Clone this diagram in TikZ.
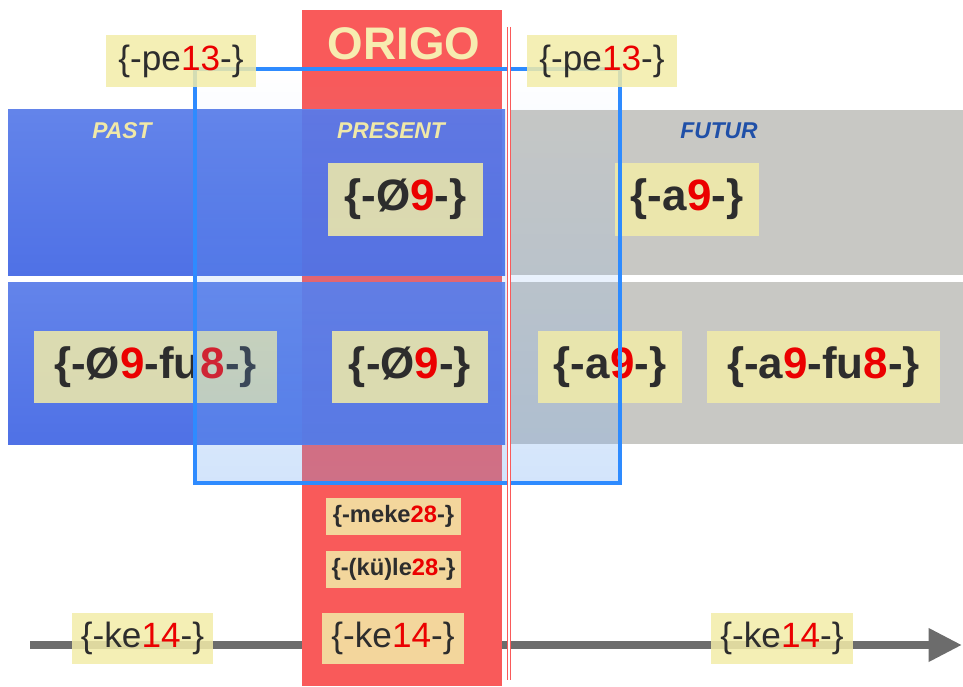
\documentclass[tikz,border=0pt]{standalone}
\usepackage{fontspec}
\setmainfont{Liberation Sans}
\usetikzlibrary{arrows.meta, fadings}
\definecolor{OrigoRed}{RGB}{249, 90, 90}
\definecolor{OrigoText}{RGB}{247, 236, 176}
\definecolor{PastBlueTop}{RGB}{99, 132, 234}
\definecolor{PastBlueBottom}{RGB}{79, 113, 230}
\definecolor{PresentTint}{RGB}{90, 90, 210}
\definecolor{FuturGray}{RGB}{200, 200, 196}
\definecolor{TagYellow}{RGB}{242, 236, 168}
\definecolor{FrameBlue}{RGB}{46, 139, 255}
\definecolor{FrameFill}{RGB}{108, 166, 241}
\definecolor{DigitRed}{RGB}{235, 0, 0}
\definecolor{InkGray}{RGB}{45, 45, 45}
\definecolor{LabelYellow}{RGB}{240, 232, 168}
\definecolor{FuturBlue}{RGB}{32, 80, 168}
\definecolor{AxisGray}{RGB}{108, 108, 108}
\newcommand{\redno}[1]{\textcolor{DigitRed}{#1}}

\begin{document}
\begin{tikzpicture}[x=0.02cm, y=-0.02cm,
    tag/.style={fill=TagYellow, fill opacity=0.85, text opacity=1, text=InkGray, inner sep=0pt},
    bigtag/.style={tag, font=\fontsize{25}{30}\selectfont\bfseries, minimum height=1.45cm},
    smalltag/.style={tag, font=\fontsize{20}{24}\selectfont},
    tinytag/.style={tag, font=\fontsize{13.5}{16}\selectfont\bfseries, minimum width=2.7cm, minimum height=0.74cm},
    era/.style={font=\fontsize{13}{15}\selectfont\bfseries\itshape}]
    \useasboundingbox (0,0) rectangle (963,686);
    % Time axis, hidden behind the origo band
    \coordinate (axis-start) at (30,645);
    \coordinate (axis-end) at (962,645);
    \draw[AxisGray, line width=4.5pt, -{Triangle[length=19pt, width=18pt]}] (axis-start) -- (axis-end);
    % Origo band
    \fill[OrigoRed] (302,10) rectangle (502,686);
    \node[font=\fontsize{26}{30}\selectfont\bfseries, text=OrigoText] (origo) at (404,44) {ORIGO};
    % Two aspect bands: past/present and futur
    \foreach \top/\bot in {110/275, 282/444} {
        \shade[top color=PastBlueTop, bottom color=PastBlueBottom] (8,\top) rectangle (505,\bot);
        \fill[PresentTint, opacity=0.3] (302,\top) rectangle (502,\bot);
        \fill[FuturGray] (510,\top) rectangle (963,\bot);
    }
    \node[bigtag, minimum width=4.86cm] (zero-fu) at (155.5,367) {\{-Ø\redno{9}-fu\redno{8}-\}};
    % Scope of -pe13-
    \fill[FrameFill, fill opacity=0.3, path fading=north] (195,69) rectangle (620,483);
    \node[bigtag, minimum width=3.1cm] (zero-top) at (405.5,199.5) {\{-Ø\redno{9}-\}};
    \node[bigtag, minimum width=2.88cm] (a-top) at (687,199.5) {\{-a\redno{9}-\}};
    \node[bigtag, minimum width=3.12cm] (zero-bot) at (410,367) {\{-Ø\redno{9}-\}};
    \node[bigtag, minimum width=2.88cm] (a-bot) at (610,367) {\{-a\redno{9}-\}};
    \node[bigtag, minimum width=4.66cm] (a-fu) at (823.5,367) {\{-a\redno{9}-fu\redno{8}-\}};
    \node[tinytag] (meke) at (393.5,516.5) {\{-meke\redno{28}-\}};
    \node[tinytag] (kule) at (393.5,569.5) {\{-(kü)le\redno{28}-\}};
    \foreach \x/\w [count=\i] in {142.5/2.82, 393/2.84, 782/2.84}
        \node[smalltag, minimum width=\w cm, minimum height=1.02cm] (ke\i) at (\x,638.5) {\{-ke\redno{14}-\}};
    \draw[FrameBlue, line width=2pt] (195,69) rectangle (620,483);
    \node[smalltag, minimum width=3cm, minimum height=1.04cm] (pe-left) at (181,61) {\{-pe\redno{13}-\}};
    \node[smalltag, minimum width=3cm, minimum height=1.04cm] (pe-right) at (602,61) {\{-pe\redno{13}-\}};
    % Border of the present
    \draw[OrigoRed, line width=0.4pt, double=white, double distance=1.2pt] (509,27) -- (509,680);
    \node[era, text=LabelYellow] (past) at (122,131) {PAST};
    \node[era, text=LabelYellow] (present) at (391,131) {PRESENT};
    \node[era, text=FuturBlue] (futur) at (719,131) {FUTUR};
\end{tikzpicture}
\end{document}
